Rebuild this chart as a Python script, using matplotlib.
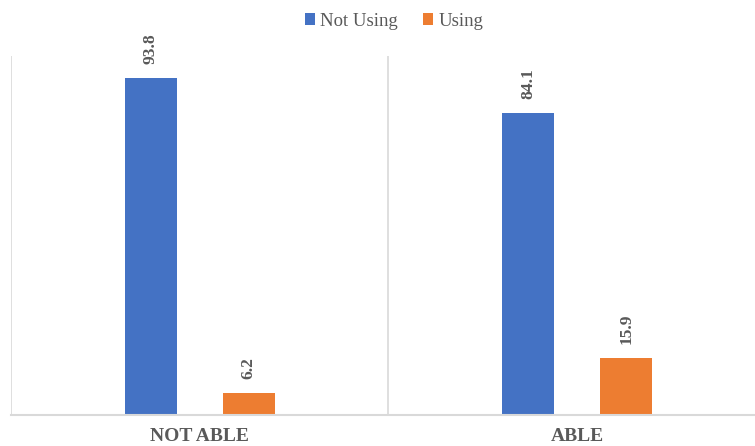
import matplotlib
matplotlib.use("Agg")
import matplotlib.pyplot as plt
import numpy as np

categories = ["NOT ABLE", "ABLE"]
series_names = ["Not Using", "Using"]
not_using = [93.8, 84.1]
using = [6.2, 15.9]

colors = ["#4472C4", "#ED7D31"]
text_color = "#595959"
grid_color = "#D9D9D9"

plt.rcParams["font.family"] = ["Liberation Serif", "DejaVu Serif"]

W, H = 755, 446
fig = plt.figure(figsize=(W / 100, H / 100), dpi=100)
left, right = 11, 766
bottom, top = 415, 56
ax = fig.add_axes([left / W, (H - bottom) / H, (right - left) / W, (bottom - top) / H])
ax.set_xlim(-0.5, 1.5)
ax.set_ylim(0, 100)

x = np.arange(len(categories))
off = 0.1295
bw = 0.138
for vals, dx, col, name in [(not_using, -off, colors[0], series_names[0]),
                            (using, off, colors[1], series_names[1])]:
    bars = ax.bar(x + dx, vals, width=bw, color=col, label=name, zorder=3)
    for b, v in zip(bars, vals):
        ax.annotate(f"{v}", (b.get_x() + b.get_width() / 2, v), xytext=(0, 10),
                    textcoords="offset points", rotation=90, ha="center", va="bottom",
                    fontsize=12.5, fontweight="bold", color=text_color)

# category separators
for xv in [-0.5, 0.5, 1.5]:
    ax.axvline(xv, color=grid_color, lw=1.2, zorder=1)
ax.axhline(0, color=grid_color, lw=1.5, zorder=4, clip_on=False)

for s in ax.spines.values():
    s.set_visible(False)
ax.set_yticks([])
ax.set_xticks([])
for xi, c in zip(x, categories):
    ax.text(xi, -7.3, c, ha="center", va="baseline", fontsize=14, fontweight="bold",
            color=text_color, transform=ax.transData, clip_on=False)

leg = fig.legend(loc="center", bbox_to_anchor=(394 / W, 1 - 21 / H), ncol=2, frameon=False,
                 fontsize=13.5, handlelength=0.55, handleheight=0.55, handletextpad=0.3,
                 columnspacing=1.3, labelcolor=text_color)

fig.savefig("out.png", dpi=100)
